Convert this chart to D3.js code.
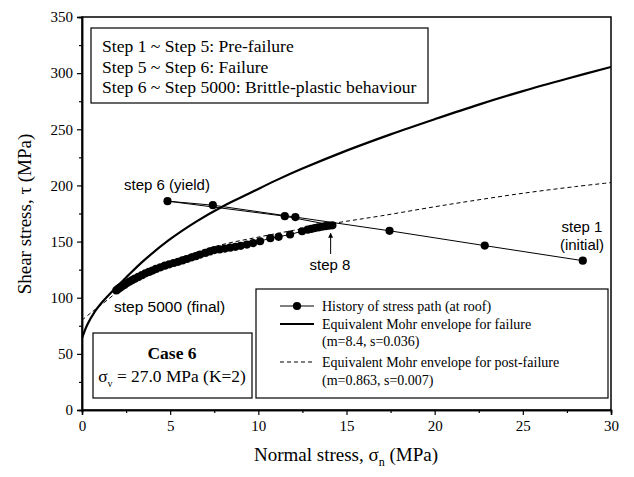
<!DOCTYPE html>
<html>
<head>
<meta charset="utf-8">
<script src="https://cdn.jsdelivr.net/npm/d3@7"></script>
<style>
  html, body { margin: 0; padding: 0; background: #fff; }
  svg { display: block; }
  svg text.tk { font-family: "Liberation Serif", "Times New Roman", serif; font-size: 15px; }
</style>
</head>
<body>
<svg id="chart" width="634" height="477"></svg>
<script>
const SERIF = "Liberation Serif, Times New Roman, serif";
const SANS = "Liberation Sans, Arial, sans-serif";

// Axis ticks
const xTicks = [0, 5, 10, 15, 20, 25, 30];
const yTicks = [0, 50, 100, 150, 200, 250, 300, 350];

// Equivalent Mohr envelope for failure (m=8.4, s=0.036)
const failSigma = [0, 0.3, 0.7, 1.2, 1.8, 2.5, 3.5, 4.9, 6.5, 8, 9.5, 11, 12.5, 15, 17.5, 20, 22.5, 25, 27.5, 30];
const failTau   = [64, 76, 87, 97, 107, 118, 133, 151, 168, 181.5, 193, 204.5, 215, 231, 245.5, 259, 272, 284, 295, 305.5];

// Equivalent Mohr envelope for post-failure (m=0.863, s=0.007)
const postSigma = [0, 0.5, 1, 2, 3, 4, 5, 6, 7, 8, 10, 12, 14.57, 17, 20, 22, 25, 28, 30];
const postTau   = [80, 86.5, 92.5, 105, 116, 125, 132, 138, 143, 147.5, 154, 160, 167, 173, 181, 186, 193, 199, 202.5];

// History of stress path at the roof: steps 1..8, then on to step 5000
const pathSigma = [28.4, 22.84, 17.44, 12.1, 7.42, 4.85, 11.5, 14.2,
  14.0, 13.8, 13.6, 13.4, 13.2, 13.0, 12.8, 12.48, 11.8, 11.15, 10.68, 10.1,
  9.7, 9.35, 9.0, 8.7, 8.4, 8.1, 7.8, 7.5, 7.25, 7.0, 6.7, 6.45, 6.2, 5.95,
  5.7, 5.45, 5.2, 4.95, 4.7, 4.45, 4.2, 4.0, 3.8, 3.6, 3.4, 3.2, 3.0, 2.85,
  2.7, 2.55, 2.4, 2.25, 2.15, 2.05, 1.95];
const pathTau = [133, 146.4, 159.6, 171.8, 182.4, 186, 172.6, 164.5,
  164.1, 163.7, 163.2, 162.6, 162, 161.3, 160.6, 159.2, 156.3, 154.2, 153, 150.3,
  148.7, 147.3, 146.2, 145.3, 144.6, 143.8, 143, 142.4, 141.2, 140, 138.4, 137, 135.8, 134.5,
  133.2, 132, 130.9, 129.7, 128.5, 127.1, 125.6, 124.2, 123, 121.7, 120.1, 118.5, 117, 115.7,
  114.4, 113, 111.4, 109.9, 108.9, 107.8, 106.5];

const svg = d3.select("#chart");
const plotLeft = 82, plotRight = 611, plotTop = 17, plotBottom = 410;

const x = d3.scaleLinear().domain([0, 30]).range([plotLeft, plotRight]);
const y = d3.scaleLinear().domain([0, 350]).range([plotBottom, plotTop]);

// Frame
svg.append("rect")
  .attr("x", plotLeft).attr("y", plotTop)
  .attr("width", plotRight - plotLeft).attr("height", plotBottom - plotTop)
  .attr("fill", "none").attr("stroke", "#000").attr("stroke-width", 1.5);

// Axes with major and minor ticks
const axes = svg.append("g");
axes.append("g").attr("transform", `translate(0,${plotBottom})`)
  .call(d3.axisBottom(x).tickValues(xTicks).tickSize(5).tickPadding(5).tickFormat(d3.format("d")));
axes.append("g").attr("transform", `translate(0,${plotBottom})`)
  .call(d3.axisBottom(x).tickValues(d3.range(2.5, 30, 5)).tickSize(3).tickFormat(""));
axes.append("g").attr("transform", `translate(${plotLeft},0)`)
  .call(d3.axisLeft(y).tickValues(yTicks).tickSize(5).tickPadding(4).tickFormat(d3.format("d")));
axes.append("g").attr("transform", `translate(${plotLeft},0)`)
  .call(d3.axisLeft(y).tickValues(d3.range(25, 350, 50)).tickSize(3).tickFormat(""));

axes.selectAll(".domain").attr("stroke", "#000").attr("stroke-width", 1.5);
axes.selectAll(".tick line").attr("stroke", "#000").attr("stroke-width", 1.2);
axes.selectAll(".tick text").attr("fill", "#000").attr("class", "tk");

// Axis titles
svg.append("text").style("font-family", SERIF)
  .attr("transform", "translate(31,214) rotate(-90)")
  .attr("text-anchor", "middle").attr("font-size", 19)
  .text("Shear stress, \u03c4 (MPa)");

const xt = svg.append("text").style("font-family", SERIF)
  .attr("x", 346).attr("y", 461)
  .attr("text-anchor", "middle").attr("font-size", 19);
xt.append("tspan").text("Normal stress, \u03c3");
xt.append("tspan").attr("font-size", 12).attr("dy", 5).text("n");
xt.append("tspan").attr("dy", -5).text(" (MPa)");

// Plot clip
svg.append("clipPath").attr("id", "plotclip")
  .append("rect").attr("x", plotLeft).attr("y", plotTop)
  .attr("width", plotRight - plotLeft).attr("height", plotBottom - plotTop);
const plot = svg.append("g").attr("clip-path", "url(#plotclip)");

const line = d3.line().x(d => x(d[0])).y(d => y(d[1]));
const smooth = d3.line().x(d => x(d[0])).y(d => y(d[1])).curve(d3.curveCatmullRom.alpha(0.5));

plot.append("path")
  .datum(d3.zip(postSigma, postTau))
  .attr("d", smooth)
  .attr("fill", "none").attr("stroke", "#000").attr("stroke-width", 1)
  .attr("stroke-dasharray", "4,3");

plot.append("path")
  .datum(d3.zip(failSigma, failTau))
  .attr("d", smooth)
  .attr("fill", "none").attr("stroke", "#000").attr("stroke-width", 2.2);

const pathData = d3.zip(pathSigma, pathTau);
plot.append("path")
  .datum(pathData)
  .attr("d", line)
  .attr("fill", "none").attr("stroke", "#000").attr("stroke-width", 1);
plot.selectAll("circle.pt")
  .data(pathData).enter().append("circle")
  .attr("class", "pt")
  .attr("cx", d => x(d[0])).attr("cy", d => y(d[1]))
  .attr("r", 4.1).attr("fill", "#000");

// Annotations
const ann = (tx, ty, s) => svg.append("text").style("font-family", SANS)
  .attr("x", tx).attr("y", ty).attr("font-size", 15).attr("text-anchor", "middle").text(s);
ann(167, 190, "step 6 (yield)");
ann(330, 270, "step 8");
ann(582, 232, "step 1");
ann(582, 250, "(initial)");
svg.append("text").style("font-family", SANS)
  .attr("x", 114).attr("y", 312).attr("font-size", 15.5).text("step 5000 (final)");

// Arrow pointing at step 8
svg.append("defs").append("marker")
  .attr("id", "arrow").attr("viewBox", "0 0 10 10")
  .attr("refX", 9).attr("refY", 5)
  .attr("markerWidth", 5).attr("markerHeight", 7).attr("orient", "auto")
  .append("path").attr("d", "M0,0 L10,5 L0,10 z").attr("fill", "#000");
svg.append("line")
  .attr("x1", x(14.1)).attr("y1", 254)
  .attr("x2", x(14.1)).attr("y2", y(164.5) + 8)
  .attr("stroke", "#000").attr("stroke-width", 1)
  .attr("marker-end", "url(#arrow)");

// Step description box
svg.append("rect").attr("x", 91).attr("y", 28).attr("width", 337).attr("height", 75)
  .attr("fill", "#fff").attr("stroke", "#000").attr("stroke-width", 1.2);
const steps = ["Step 1 ~ Step 5: Pre-failure", "Step 5 ~ Step 6: Failure", "Step 6 ~ Step 5000: Brittle-plastic behaviour"];
steps.forEach((s, i) => {
  svg.append("text").style("font-family", SERIF)
    .attr("x", 102).attr("y", 52 + i * 20.5).attr("font-size", 17.6).text(s);
});

// Case box
svg.append("rect").attr("x", 93).attr("y", 333).attr("width", 159).attr("height", 65)
  .attr("fill", "#fff").attr("stroke", "#000").attr("stroke-width", 1.2);
svg.append("text").style("font-family", SERIF)
  .attr("x", 172).attr("y", 359).attr("font-size", 17.5).attr("font-weight", "bold")
  .attr("text-anchor", "middle").text("Case 6");
const cv = svg.append("text").style("font-family", SERIF)
  .attr("x", 172).attr("y", 382).attr("font-size", 17.4).attr("text-anchor", "middle");
cv.append("tspan").text("\u03c3");
cv.append("tspan").attr("font-size", 10).attr("dy", 5).text("v");
cv.append("tspan").attr("dy", -5).text(" = 27.0 MPa (K=2)");

// Legend
svg.append("rect").attr("x", 256).attr("y", 289).attr("width", 352).attr("height", 109)
  .attr("fill", "#fff").attr("stroke", "#000").attr("stroke-width", 1.2);
const lg = svg.append("g");
lg.append("line").attr("x1", 280).attr("x2", 314).attr("y1", 306).attr("y2", 306)
  .attr("stroke", "#000").attr("stroke-width", 1);
lg.append("circle").attr("cx", 297).attr("cy", 306).attr("r", 4.1).attr("fill", "#000");
lg.append("line").attr("x1", 280).attr("x2", 314).attr("y1", 324).attr("y2", 324)
  .attr("stroke", "#000").attr("stroke-width", 2.2);
lg.append("line").attr("x1", 280).attr("x2", 314).attr("y1", 362).attr("y2", 362)
  .attr("stroke", "#000").attr("stroke-width", 1).attr("stroke-dasharray", "4,3");
const legendText = [
  ["History of stress path (at roof)", 311],
  ["Equivalent Mohr envelope for failure", 329],
  ["(m=8.4, s=0.036)", 346],
  ["Equivalent Mohr envelope for post-failure", 367],
  ["(m=0.863, s=0.007)", 385]
];
legendText.forEach(([s, ty]) => {
  lg.append("text").style("font-family", SERIF)
    .attr("x", 322).attr("y", ty).attr("font-size", 14).text(s);
});
</script>
</body>
</html>
